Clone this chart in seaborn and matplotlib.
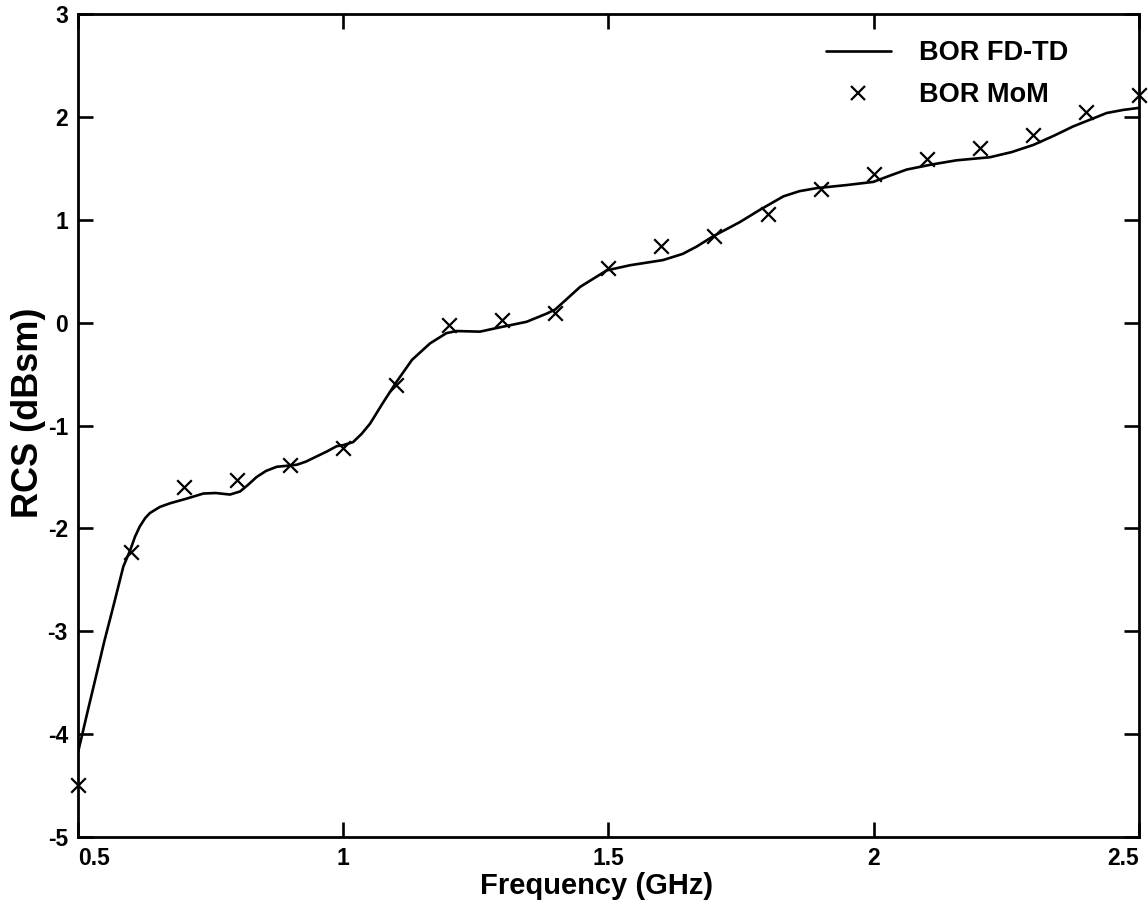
import matplotlib
matplotlib.use("Agg")
import matplotlib.pyplot as plt
import seaborn as sns
import pandas as pd
from matplotlib.lines import Line2D

# ---- data ----
fdtd_freq = [0.500, 0.520, 0.533, 0.550, 0.567, 0.586, 0.599, 0.608, 0.617, 0.627,
             0.636, 0.655, 0.674, 0.705, 0.737, 0.760, 0.787, 0.806, 0.820, 0.837,
             0.855, 0.875, 0.895, 0.913, 0.930, 0.950, 0.970, 0.988, 1.000, 1.019,
             1.035, 1.051, 1.075, 1.100, 1.130, 1.164, 1.195, 1.214, 1.258, 1.290,
             1.346, 1.384, 1.400, 1.447, 1.497, 1.541, 1.603, 1.640, 1.666, 1.697,
             1.748, 1.786, 1.830, 1.860, 1.893, 1.950, 1.999, 2.030, 2.062, 2.110,
             2.156, 2.219, 2.260, 2.301, 2.340, 2.376, 2.410, 2.439, 2.470, 2.500]
fdtd_rcs = [-4.19, -3.75, -3.47, -3.10, -2.76, -2.37, -2.21, -2.08, -1.98, -1.90,
            -1.85, -1.79, -1.755, -1.71, -1.66, -1.655, -1.67, -1.64, -1.58, -1.50,
            -1.44, -1.40, -1.39, -1.38, -1.35, -1.30, -1.25, -1.20, -1.19, -1.16,
            -1.08, -0.98, -0.78, -0.58, -0.36, -0.20, -0.10, -0.08, -0.086, -0.05,
            0.01, 0.09, 0.13, 0.35, 0.51, 0.56, 0.61, 0.67, 0.74, 0.84,
            0.98, 1.10, 1.23, 1.28, 1.31, 1.34, 1.37, 1.43, 1.49, 1.54,
            1.58, 1.61, 1.66, 1.73, 1.82, 1.91, 1.98, 2.04, 2.07, 2.09]

mom_freq = [0.5, 0.6, 0.7, 0.8, 0.9, 1.0, 1.1, 1.2, 1.3, 1.4, 1.5,
            1.6, 1.7, 1.8, 1.9, 2.0, 2.1, 2.2, 2.3, 2.4, 2.5]
mom_rcs = [-4.49, -2.23, -1.60, -1.53, -1.38, -1.22, -0.60, -0.02, 0.03, 0.10, 0.53,
           0.75, 0.84, 1.06, 1.30, 1.45, 1.59, 1.70, 1.83, 2.05, 2.22]

xticks = [0.5, 1, 1.5, 2, 2.5]
xtick_labels = ["0.5", "1", "1.5", "2", "2.5"]
yticks = [-5, -4, -3, -2, -1, 0, 1, 2, 3]
ytick_labels = ["-5", "-4", "-3", "-2", "-1", "0", "1", "2", "3"]

series_names = ["BOR FD-TD", "BOR MoM"]
x_label = "Frequency (GHz)"
y_label = "RCS (dBsm)"

fdtd_df = pd.DataFrame({"freq": fdtd_freq, "rcs": fdtd_rcs})
mom_df = pd.DataFrame({"freq": mom_freq, "rcs": mom_rcs})

# ---- style ----
sns.set_theme(style="ticks")
plt.rcParams["font.family"] = ["Liberation Sans", "DejaVu Sans"]
plt.rcParams["font.weight"] = "bold"
plt.rcParams["text.color"] = "black"
plt.rcParams["axes.labelcolor"] = "black"
plt.rcParams["xtick.color"] = "black"
plt.rcParams["ytick.color"] = "black"

fig = plt.figure(figsize=(11.48, 9.13), dpi=100)
ax = fig.add_axes([77.7 / 1148, 1 - 837 / 913, (1139 - 77.7) / 1148, (837 - 14.3) / 913])

sns.lineplot(data=fdtd_df, x="freq", y="rcs", ax=ax, color="black", linewidth=1.9,
             sort=False, estimator=None)
sns.scatterplot(data=mom_df, x="freq", y="rcs", ax=ax, marker="x", color="black",
                s=110, linewidth=1.6, clip_on=False, zorder=5)

ax.set_xlim(0.5, 2.5)
ax.set_ylim(-5, 3)
ax.set_xticks(xticks)
ax.set_xticklabels(xtick_labels)
ax.set_yticks(yticks)
ax.set_yticklabels(ytick_labels)

ax.tick_params(axis="both", which="major", direction="in", length=10.5, width=1.9,
               top=True, right=True, labelsize=16.5, pad=7,
               colors="black", labelcolor="black")
for lab in ax.get_xticklabels() + ax.get_yticklabels():
    lab.set_fontweight("bold")
xl = ax.get_xticklabels()
xl[0].set_horizontalalignment("left")
xl[-1].set_horizontalalignment("right")

for sp in ax.spines.values():
    sp.set_linewidth(2.0)
    sp.set_color("black")

ax.set_xlabel(x_label, fontsize=21, fontweight="bold", color="black")
ax.set_ylabel(y_label, fontsize=26, fontweight="bold", color="black")
ax.xaxis.set_label_coords(0.489, -0.043)
ax.yaxis.set_label_coords(-0.030, 0.515)

handles = [Line2D([], [], color="black", linewidth=1.9),
           Line2D([], [], color="black", linestyle="none", marker="x",
                  markersize=10, markeredgewidth=1.6)]
leg = ax.legend(handles, series_names, loc="upper right",
                bbox_to_anchor=(1068 / 1148, 1 - 40 / 913),
                bbox_transform=fig.transFigure, frameon=False,
                prop={"family": "Liberation Sans", "weight": "bold", "size": 19.5},
                handlelength=2.4, handletextpad=1.04, labelspacing=0.6,
                borderpad=0, borderaxespad=0)
for t in leg.get_texts():
    t.set_color("black")

fig.savefig("out.png", dpi=100)
